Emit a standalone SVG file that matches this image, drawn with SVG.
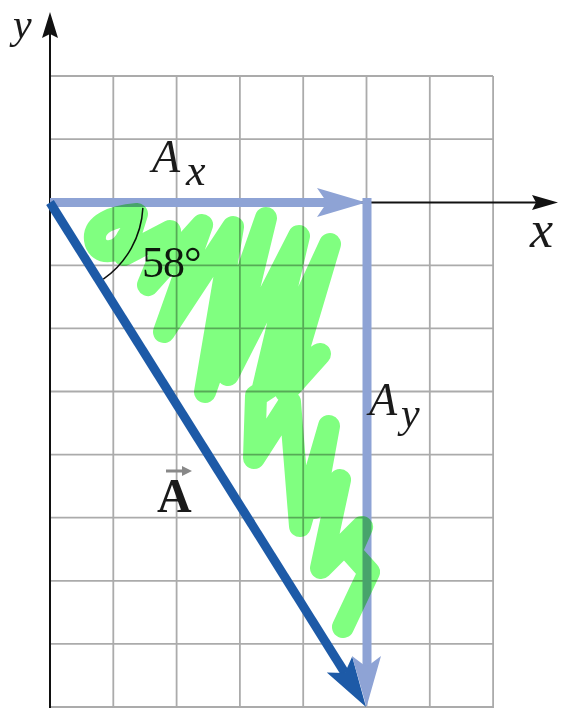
<svg xmlns="http://www.w3.org/2000/svg" width="562" height="708" viewBox="0 0 562 708">
<style>
.grid line{stroke:#ababab;stroke-width:1.8}
.ax{stroke:#111;stroke-width:2;fill:none}
.lab{font-family:"Liberation Serif","Times New Roman",serif;font-style:italic;fill:#1a1a1a}
.num{font-family:"Liberation Serif","Times New Roman",serif;fill:#1a1a1a}
.scrib{fill:none;stroke:#80ff80;stroke-width:22;stroke-linecap:round;stroke-linejoin:round;mix-blend-mode:multiply}
</style>
<rect width="562" height="708" fill="#fff"/>
<g id="grid" class="grid">
<line x1="50" y1="76" x2="493" y2="76"/>
<line x1="50" y1="139.1" x2="493" y2="139.1"/>
<line x1="50" y1="265.3" x2="493" y2="265.3"/>
<line x1="50" y1="328.4" x2="493" y2="328.4"/>
<line x1="50" y1="391.5" x2="493" y2="391.5"/>
<line x1="50" y1="454.6" x2="493" y2="454.6"/>
<line x1="50" y1="517.7" x2="493" y2="517.7"/>
<line x1="50" y1="580.8" x2="493" y2="580.8"/>
<line x1="50" y1="643.9" x2="493" y2="643.9"/>
<line x1="50" y1="707" x2="493" y2="707"/>
<line x1="113.3" y1="76" x2="113.3" y2="708"/>
<line x1="176.6" y1="76" x2="176.6" y2="708"/>
<line x1="239.9" y1="76" x2="239.9" y2="708"/>
<line x1="303.2" y1="76" x2="303.2" y2="708"/>
<line x1="366.5" y1="76" x2="366.5" y2="708"/>
<line x1="429.8" y1="76" x2="429.8" y2="708"/>
<line x1="493.1" y1="76" x2="493.1" y2="708"/>
</g>
<g id="axes">
<line class="ax" x1="50" y1="708" x2="50" y2="30"/>
<path d="M50,12 L58,38 L50,34 L42,38 Z" fill="#111"/>
<line class="ax" x1="50" y1="202.5" x2="540" y2="202.5"/>
<path d="M558,202.5 L532,195 L536,202.5 L532,210 Z" fill="#111"/>
<text class="lab" x="13" y="38" font-size="42">y</text>
<text class="lab" x="530" y="247" font-size="52">x</text>
</g>
<g id="connectors">
<g id="Ax">
<line x1="50" y1="202.5" x2="330" y2="202.5" stroke="#8ea3d5" stroke-width="9"/>
<path d="M366,202.5 L317,188 L327,202.5 L317,217 Z" fill="#8ea3d5"/>
</g>
<g id="A">
<line x1="50" y1="202.5" x2="345" y2="673" stroke="#1d5aa7" stroke-width="9"/>
<path d="M366,707 L352.2,656.6 L344.8,673.1 L326.8,672.6 Z" fill="#1d5aa7"/>
</g>
<g id="Ay">
<line x1="367" y1="198" x2="367" y2="670" stroke="#8ea3d5" stroke-width="9"/>
<path d="M366.5,707 L352,656 L366.5,667 L381,656 Z" fill="#8ea3d5"/>
</g>
</g>
<g id="angle">
<path d="M142.9,207.9 A93,93 0 0 1 103.3,279.2" fill="none" stroke="#111" stroke-width="1.5"/>
<text class="num" x="142" y="277" font-size="44" letter-spacing="-1">58°</text>
</g>
<g id="labels">
<text class="lab" x="152" y="172" font-size="46">A</text>
<text class="lab" x="186" y="185" font-size="44">x</text>
<text class="lab" x="369" y="415" font-size="46">A</text>
<text class="lab" x="401" y="427" font-size="42">y</text>
<text x="157" y="512" font-family="Liberation Serif, Times New Roman, serif" font-weight="bold" font-size="48" fill="#1a1a1a">A</text>
<line x1="166" y1="471" x2="184" y2="471" stroke="#888" stroke-width="3"/>
<path d="M192,471 L182,466 L182,476 Z" fill="#888"/>
</g>
<g id="scribble">
<path class="scrib" d="M128,236 C120,255 97,256 95,240 C93,224 112,216 137,214 L124,255 L170,231 L148,285 L202,225 L164,332 L233,227 L205,392 L266,218 L228,375 L299,236 L262,392 L330,244 L286,392 L320,354 L256,396 L254,458 L290,402 L300,526 L329,426 L314,508 L340,480 L321,568 L362,527 L351,552 L369,572 L343,627"/>
</g>
</svg>
